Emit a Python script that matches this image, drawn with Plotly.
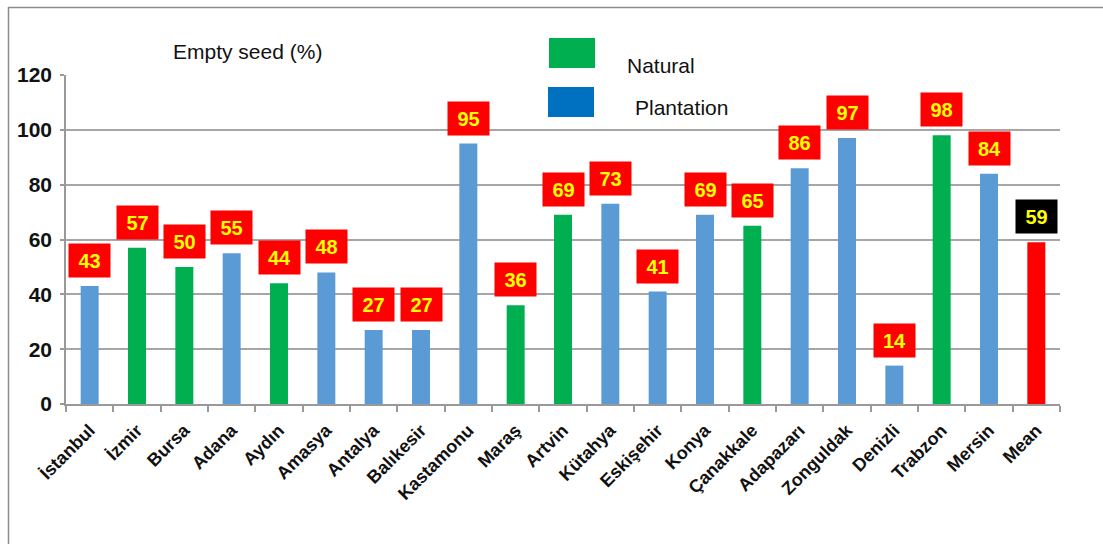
import plotly.graph_objects as go

cities = ["İstanbul", "İzmir", "Bursa", "Adana", "Aydın", "Amasya", "Antalya", "Balıkesir",
          "Kastamonu", "Maraş", "Artvin", "Kütahya", "Eskişehir", "Konya", "Çanakkale",
          "Adapazarı", "Zonguldak", "Denizli", "Trabzon", "Mersin", "Mean"]
values = [43, 57, 50, 55, 44, 48, 27, 27, 95, 36, 69, 73, 41, 69, 65, 86, 97, 14, 98, 84, 59]
stand = ["Plantation", "Natural", "Natural", "Plantation", "Natural", "Plantation", "Plantation",
         "Plantation", "Plantation", "Natural", "Natural", "Plantation", "Plantation", "Plantation",
         "Natural", "Plantation", "Plantation", "Plantation", "Natural", "Plantation", "Mean"]
y_ticks = [0, 20, 40, 60, 80, 100, 120]

bar_colors = {"Plantation": "#5B9BD5", "Natural": "#00B050", "Mean": "#FF0000"}
legend_colors = {"Natural": "#00B050", "Plantation": "#0070C0"}
FONT = "Liberation Sans, Arial, sans-serif"

# layout pixel geometry
W, H = 1103, 544
L, R, T, B = 66, 1060, 75, 404
PW, PH = R - L, B - T

def px(x):
    return (x - L) / PW

def py(y):
    return (B - y) / PH

fig = go.Figure()
fig.add_trace(go.Bar(
    x=cities, y=values,
    marker=dict(color=[bar_colors[s] for s in stand], line=dict(width=0)),
    width=0.38, showlegend=False, hoverinfo="x+y",
))

annotations = []
for c, v, s in zip(cities, values, stand):
    annotations.append(dict(
        x=c, y=v, xref="x", yref="y", yanchor="bottom", yshift=8,
        text=str(v), showarrow=False,
        bgcolor="#000000" if s == "Mean" else "#FF0000",
        width=41, height=33, borderpad=0,
        font=dict(family=FONT, size=20, color="#FFFF00", weight="bold"),
    ))

# title text
annotations.append(dict(x=px(247), y=py(51), xref="paper", yref="paper", text="Empty seed (%)",
                        showarrow=False, xanchor="center", yanchor="middle",
                        font=dict(family=FONT, size=21, color="#111111")))
# legend texts
annotations.append(dict(x=px(625), y=py(65), xref="paper", yref="paper", text="Natural",
                        showarrow=False, xanchor="left", yanchor="middle",
                        font=dict(family=FONT, size=21, color="#111111")))
annotations.append(dict(x=px(633), y=py(107), xref="paper", yref="paper", text="Plantation",
                        showarrow=False, xanchor="left", yanchor="middle",
                        font=dict(family=FONT, size=21, color="#111111")))

shapes = [
    dict(type="rect", xref="paper", yref="paper", x0=px(549), x1=px(595), y0=py(68), y1=py(38),
         fillcolor=legend_colors["Natural"], line=dict(width=0)),
    dict(type="rect", xref="paper", yref="paper", x0=px(548), x1=px(594), y0=py(117), y1=py(87),
         fillcolor=legend_colors["Plantation"], line=dict(width=0)),
    # outer frame (top and left)
    dict(type="line", xref="paper", yref="paper", x0=px(8), x1=px(W), y0=py(7.5), y1=py(7.5),
         line=dict(color="#8C8C8C", width=1.5)),
    dict(type="line", xref="paper", yref="paper", x0=px(8.5), x1=px(8.5), y0=py(7), y1=py(H),
         line=dict(color="#8C8C8C", width=1.5)),
]

fig.update_layout(
    width=W, height=H,
    margin=dict(l=L, r=W - R, t=T, b=H - B, autoexpand=False),
    paper_bgcolor="white", plot_bgcolor="white",
    bargap=0.62,
    annotations=annotations, shapes=shapes,
    showlegend=False,
    xaxis=dict(
        type="category", showline=True, linecolor="#999999", linewidth=1.5,
        ticks="outside", ticklen=6, tickcolor="#999999", tickwidth=1.5,
        tickson="boundaries", tickangle=-45, showgrid=False,
        tickfont=dict(family=FONT, size=18, color="#111111", weight="bold"),
        ticklabelstandoff=7,
    ),
    yaxis=dict(
        range=[0, 120], tickvals=y_ticks, showline=True, linecolor="#999999", linewidth=1.5,
        ticks="outside", ticklen=4, tickcolor="#999999", tickwidth=1.5,
        showgrid=True, gridcolor="#A6A6A6", gridwidth=1.5, zeroline=False,
        tickfont=dict(family=FONT, size=21, color="#111111", weight="bold"),
        ticklabelstandoff=4,
    ),
)

fig.write_html("out.html")
